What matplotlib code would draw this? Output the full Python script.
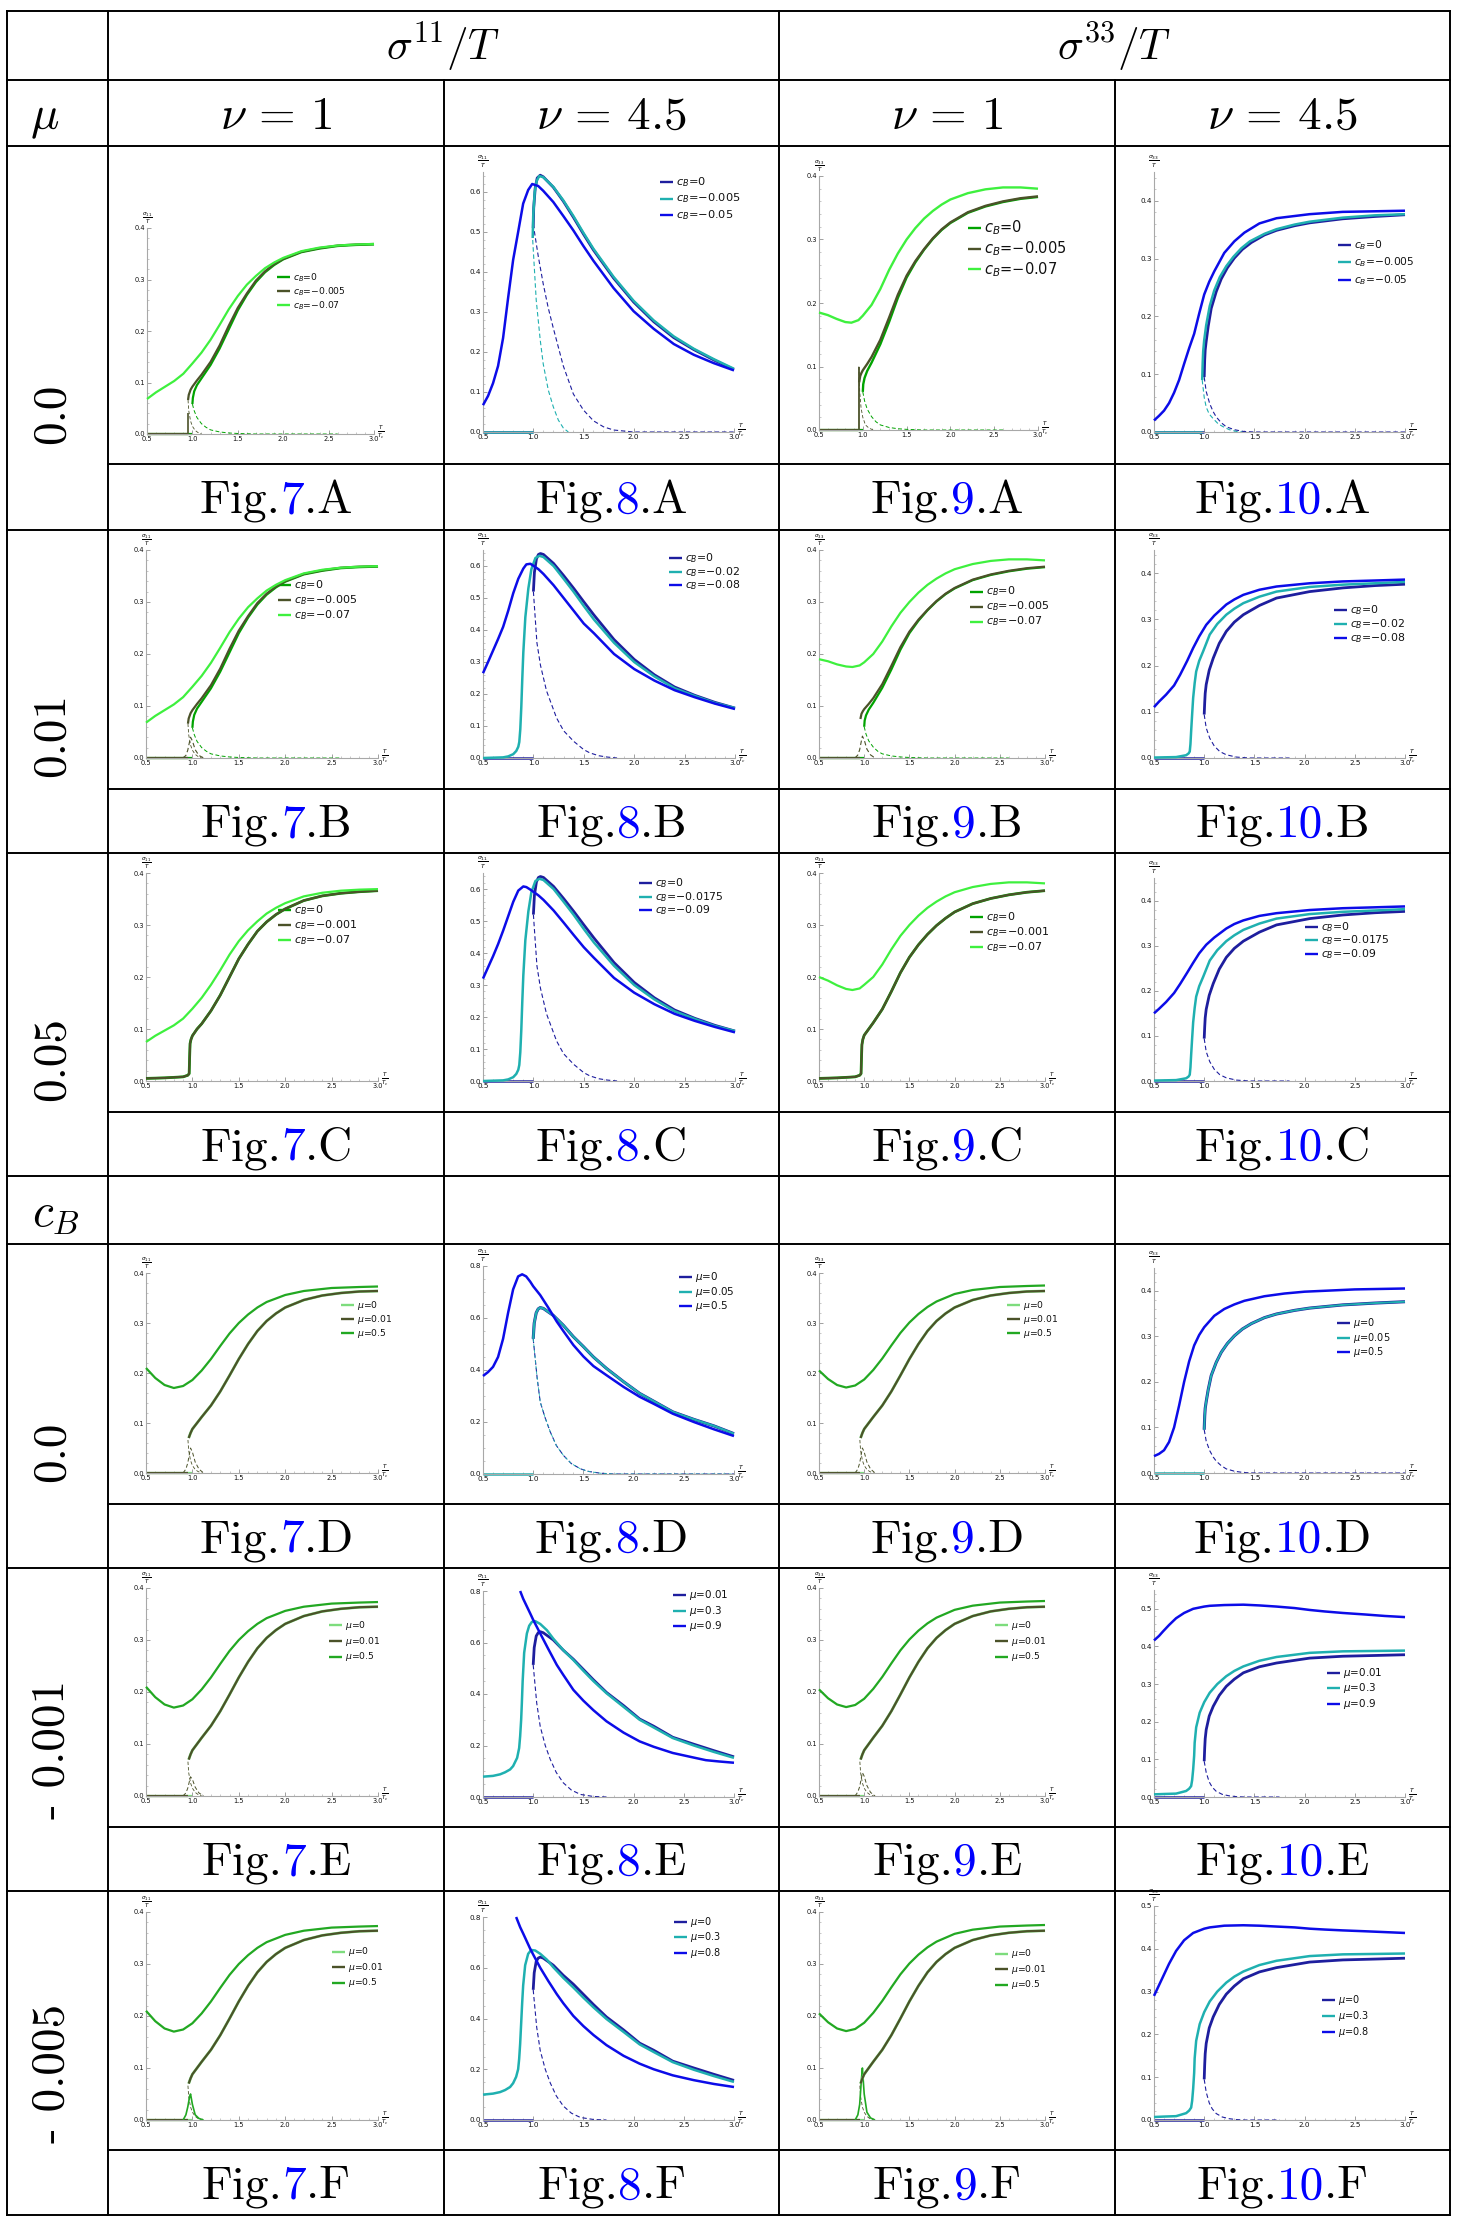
import matplotlib
matplotlib.use('Agg')
import matplotlib.pyplot as plt
from matplotlib.ticker import MultipleLocator, FormatStrFormatter

# ====================== DATA ======================
# ---- Fig.7 (sigma11, nu=1), rows A-C ----
x7_lg = [0.5,0.6,0.7,0.8,0.9,1.0,1.1,1.2,1.3,1.4,1.5,1.6,1.7,1.8,1.9,2.0,2.2,2.4,2.6,2.8,3.0]
y7a_lg = [0.068,0.081,0.092,0.103,0.117,0.137,0.158,0.183,0.212,0.242,0.268,0.290,0.307,0.322,0.333,0.342,0.355,0.362,0.366,0.368,0.369]
y7c_lg = [0.075,0.087,0.097,0.107,0.120,0.139,0.160,0.185,0.213,0.243,0.269,0.290,0.307,0.322,0.333,0.342,0.355,0.362,0.366,0.368,0.369]
x7_dk = [0.952,0.96,0.98,1.0,1.05,1.1,1.2,1.3,1.4,1.5,1.6,1.7,1.8,1.9,2.0,2.2,2.4,2.6,2.8,3.0]
y7a_dk = [0.066,0.076,0.086,0.092,0.104,0.115,0.140,0.172,0.210,0.245,0.273,0.298,0.316,0.330,0.340,0.354,0.361,0.366,0.368,0.369]
x7_g0 = [1.0,1.005,1.02,1.05,1.1,1.2,1.3,1.4,1.5,1.6,1.7,1.8,1.9,2.0,2.2,2.4,2.6,2.8,3.0]
y7a_g0 = [0.058,0.070,0.083,0.095,0.108,0.134,0.166,0.203,0.240,0.270,0.295,0.314,0.328,0.339,0.353,0.360,0.365,0.367,0.368]
x7_gdash = [1.0,1.02,1.05,1.1,1.15,1.2,1.3,1.4,1.5,1.7,2.0,2.6]
y7_gdash = [0.058,0.045,0.032,0.020,0.013,0.008,0.004,0.002,0.001,0.0,0.0,0.0]
x7_kdash = [0.952,0.96,0.98,1.0,1.03,1.06,1.1]
y7_kdash = [0.066,0.045,0.025,0.015,0.007,0.003,0.0]
x7a_spike = [0.95,0.95]
y7a_spike = [0.0,0.04]
x_bump = [0.9,0.93,0.95,0.97,0.98,1.0,1.03,1.07,1.12]
y7b_bump = [0.0,0.005,0.015,0.032,0.040,0.033,0.016,0.005,0.0]
x7c_dk = [0.5,0.7,0.9,0.95,0.965,0.97,0.975,0.985,1.0,1.05,1.1,1.2,1.3,1.4,1.5,1.6,1.7,1.8,1.9,2.0,2.2,2.4,2.6,2.8,3.0]
y7c_dk = [0.005,0.006,0.008,0.011,0.014,0.045,0.072,0.08,0.087,0.1,0.11,0.135,0.165,0.2,0.235,0.263,0.288,0.306,0.32,0.331,0.347,0.356,0.361,0.364,0.366]

# ---- Fig.9 (sigma33, nu=1), rows A-C ----
x9_lg = [0.5,0.6,0.7,0.8,0.87,0.95,1.0,1.1,1.2,1.3,1.4,1.5,1.6,1.7,1.8,1.9,2.0,2.2,2.4,2.6,2.8,3.0]
y9a_lg = [0.185,0.181,0.175,0.170,0.169,0.173,0.180,0.197,0.222,0.252,0.278,0.300,0.318,0.333,0.345,0.355,0.363,0.373,0.379,0.382,0.382,0.380]
y9b_lg = [0.190,0.186,0.180,0.176,0.175,0.178,0.184,0.200,0.224,0.253,0.279,0.300,0.318,0.333,0.345,0.355,0.363,0.373,0.379,0.382,0.382,0.380]
y9c_lg = [0.200,0.193,0.184,0.177,0.175,0.178,0.185,0.200,0.224,0.253,0.279,0.300,0.318,0.333,0.345,0.355,0.363,0.373,0.379,0.382,0.382,0.380]
x9_dk = [0.958,0.97,0.985,1.0,1.05,1.1,1.2,1.3,1.4,1.5,1.6,1.7,1.8,1.9,2.0,2.2,2.4,2.6,2.8,3.0]
y9a_dk = [0.075,0.085,0.09,0.094,0.104,0.115,0.142,0.177,0.213,0.243,0.266,0.285,0.302,0.316,0.327,0.343,0.353,0.360,0.365,0.368]
y9a_g0 = [0.060,0.072,0.082,0.093,0.106,0.135,0.170,0.208,0.240,0.264,0.284,0.301,0.315,0.326,0.342,0.352,0.359,0.364,0.367]
y9_gdash = [0.06,0.046,0.033,0.021,0.013,0.008,0.004,0.002,0.001,0.0,0.0,0.0]
x9a_spike = [0.955,0.955]
y9a_spike = [0.0,0.1]
x9_sdash = [0.955,0.965,0.98,1.0,1.03,1.07,1.12]
y9_sdash = [0.1,0.06,0.035,0.02,0.008,0.003,0.0]
y9b_bump = [0.0,0.006,0.016,0.034,0.042,0.035,0.017,0.006,0.0]
y9c_dk = [0.005,0.006,0.008,0.011,0.014,0.045,0.07,0.08,0.088,0.1,0.112,0.138,0.172,0.208,0.238,0.262,0.282,0.299,0.313,0.325,0.341,0.351,0.358,0.363,0.366]

# ---- Fig.7 / Fig.9 rows D-F ----
x_up = [0.5,0.6,0.7,0.8,0.9,1.0,1.1,1.2,1.3,1.4,1.5,1.6,1.7,1.8,2.0,2.2,2.5,2.8,3.0]
y7d_up = [0.210,0.190,0.176,0.170,0.174,0.186,0.205,0.228,0.254,0.279,0.300,0.317,0.331,0.342,0.356,0.364,0.370,0.372,0.373]
y9d_up = [0.205,0.188,0.176,0.171,0.175,0.187,0.206,0.229,0.255,0.280,0.301,0.318,0.332,0.343,0.358,0.366,0.372,0.374,0.375]
x_low = [0.96,0.98,1.0,1.05,1.1,1.2,1.3,1.4,1.5,1.6,1.7,1.8,1.9,2.0,2.2,2.4,2.6,2.8,3.0]
y7d_low = [0.070,0.080,0.088,0.100,0.112,0.135,0.163,0.195,0.228,0.258,0.284,0.304,0.319,0.331,0.346,0.355,0.360,0.363,0.364]
y7d_bump = [0.0,0.008,0.020,0.040,0.050,0.042,0.022,0.008,0.0]
y7e_bump = [0.0,0.006,0.015,0.030,0.037,0.032,0.017,0.006,0.0]
y7f_bump = [0.0,0.010,0.025,0.045,0.050,0.030,0.010,0.003,0.0]
y9d_bump = [0.0,0.008,0.020,0.040,0.050,0.042,0.022,0.008,0.0]
y9e_bump = [0.0,0.008,0.018,0.036,0.045,0.038,0.020,0.007,0.0]
y9f_bump = [0.0,0.010,0.030,0.080,0.100,0.050,0.015,0.004,0.0]

# ---- Fig.8 (sigma11, nu=4.5) ----
x8a_bl = [0.5,0.55,0.6,0.65,0.7,0.75,0.8,0.85,0.9,0.95,0.99,1.05,1.1,1.2,1.3,1.4,1.5,1.6,1.8,2.0,2.2,2.4,2.6,2.8,3.0]
y8a_bl = [0.067,0.09,0.122,0.165,0.235,0.335,0.43,0.5,0.571,0.605,0.62,0.615,0.603,0.575,0.54,0.504,0.465,0.428,0.36,0.302,0.258,0.22,0.193,0.172,0.154]
x8a_nv = [1.0,1.005,1.02,1.04,1.07,1.1,1.2,1.3,1.4,1.5,1.6,1.8,2.0,2.2,2.4,2.6,2.8,3.0]
y8a_nv = [0.51,0.56,0.61,0.635,0.642,0.638,0.612,0.577,0.537,0.495,0.455,0.385,0.325,0.276,0.236,0.206,0.18,0.156]
x8a_tl = [0.995,1.0,1.015,1.035,1.06,1.1,1.2,1.3,1.4,1.5,1.6,1.8,2.0,2.2,2.4,2.6,2.8,3.0]
y8a_tl = [0.485,0.54,0.6,0.628,0.64,0.637,0.613,0.579,0.54,0.498,0.458,0.388,0.328,0.279,0.239,0.208,0.182,0.158]
x8a_tdash = [0.995,1.03,1.07,1.1,1.15,1.2,1.25,1.3,1.35]
y8a_tdash = [0.48,0.33,0.23,0.17,0.105,0.063,0.03,0.01,0.0]
x8a_ndash = [1.0,1.05,1.1,1.15,1.2,1.3,1.4,1.5,1.6,1.7,1.8,2.0,3.0]
y8a_ndash = [0.52,0.44,0.37,0.31,0.26,0.165,0.095,0.055,0.028,0.013,0.005,0.0,0.0]
x8b_bl = [0.5,0.55,0.6,0.65,0.7,0.75,0.8,0.85,0.9,0.93,0.97,1.05,1.1,1.2,1.3,1.4,1.5,1.6,1.8,2.0,2.2,2.4,2.6,2.8,3.0]
y8b_bl = [0.265,0.3,0.336,0.372,0.41,0.46,0.515,0.56,0.592,0.605,0.607,0.59,0.575,0.54,0.5,0.46,0.42,0.39,0.325,0.278,0.242,0.212,0.19,0.17,0.153]
y8c_bl = [0.32,0.355,0.39,0.428,0.47,0.515,0.56,0.595,0.608,0.606,0.598,0.58,0.566,0.533,0.495,0.456,0.418,0.385,0.322,0.276,0.24,0.21,0.188,0.169,0.152]
x8b_tl = [0.5,0.7,0.75,0.8,0.83,0.85,0.86,0.87,0.88,0.89,0.9,0.92,0.95,0.98,1.02,1.06,1.1,1.2,1.3,1.4,1.5,1.6,1.8,2.0,2.2,2.4,2.6,2.8,3.0]
y8b_tl = [0.0,0.002,0.005,0.012,0.022,0.035,0.05,0.09,0.16,0.25,0.33,0.44,0.53,0.59,0.625,0.632,0.628,0.6,0.56,0.519,0.475,0.433,0.36,0.3,0.255,0.218,0.194,0.172,0.156]
x8b_nv = [1.0,1.01,1.03,1.05,1.07,1.1,1.2,1.3,1.4,1.5,1.6,1.8,2.0,2.2,2.4,2.6,2.8,3.0]
y8b_nv = [0.52,0.58,0.622,0.636,0.639,0.636,0.608,0.57,0.53,0.488,0.447,0.37,0.308,0.26,0.222,0.196,0.174,0.156]
x8b_ndash = [1.0,1.035,1.07,1.13,1.23,1.3,1.4,1.5,1.56,1.65,1.73,1.83]
y8b_ndash = [0.52,0.36,0.29,0.21,0.125,0.085,0.052,0.026,0.016,0.007,0.003,0.0]
x8d_bl = [0.5,0.55,0.6,0.65,0.7,0.75,0.8,0.85,0.89,0.93,0.97,1.0,1.07,1.15,1.235,1.3,1.4,1.5,1.6,1.73,1.9,2.06,2.2,2.39,2.6,2.8,3.0]
y8d_bl = [0.377,0.392,0.412,0.45,0.52,0.62,0.71,0.76,0.768,0.76,0.74,0.722,0.688,0.64,0.586,0.55,0.496,0.452,0.415,0.38,0.335,0.297,0.27,0.232,0.2,0.172,0.146]
x8d_tl = [1.0,1.01,1.03,1.05,1.07,1.1,1.2,1.3,1.4,1.5,1.6,1.73,1.9,2.06,2.2,2.39,2.6,2.8,3.0]
y8d_tl = [0.52,0.58,0.62,0.635,0.64,0.637,0.61,0.572,0.528,0.49,0.45,0.406,0.355,0.31,0.28,0.239,0.21,0.185,0.155]
x8d_dash = [1.0,1.04,1.07,1.12,1.17,1.23,1.3,1.38,1.47,1.55,1.67,1.8,3.0]
y8d_dash = [0.52,0.367,0.277,0.215,0.162,0.11,0.072,0.04,0.02,0.01,0.003,0.0,0.0]
x8e_bl = [0.87,0.9,0.97,1.0,1.07,1.15,1.235,1.3,1.4,1.5,1.6,1.73,1.9,2.06,2.2,2.39,2.6,2.72,2.85,3.0]
y8e_bl = [0.8,0.77,0.713,0.688,0.635,0.575,0.513,0.474,0.416,0.374,0.337,0.294,0.25,0.216,0.195,0.171,0.153,0.143,0.138,0.133]
x8e_tl = [0.5,0.6,0.67,0.72,0.77,0.8,0.84,0.86,0.87,0.88,0.887,0.895,0.91,0.937,0.96,0.987,1.02,1.07,1.136,1.2,1.3,1.4,1.5,1.6,1.73,1.9,2.06,2.2,2.39,2.6,2.8,3.0]
y8e_tl = [0.079,0.082,0.088,0.096,0.107,0.12,0.152,0.19,0.236,0.3,0.365,0.45,0.56,0.635,0.665,0.68,0.683,0.672,0.648,0.615,0.57,0.532,0.49,0.45,0.403,0.35,0.3,0.27,0.229,0.2,0.175,0.152]
x8e_nv = [1.0,1.01,1.03,1.05,1.07,1.1,1.2,1.3,1.4,1.5,1.6,1.73,1.9,2.06,2.2,2.39,2.6,2.8,3.0]
y8e_nv = [0.513,0.58,0.625,0.638,0.642,0.638,0.61,0.57,0.535,0.495,0.455,0.406,0.355,0.303,0.275,0.232,0.205,0.18,0.156]
x8e_ndash = [1.0,1.035,1.07,1.12,1.17,1.23,1.3,1.38,1.47,1.6,1.73]
y8e_ndash = [0.513,0.365,0.274,0.2,0.146,0.095,0.055,0.027,0.01,0.002,0.0]
x8f_bl = [0.83,0.87,0.9,0.97,1.0,1.07,1.15,1.235,1.3,1.4,1.5,1.6,1.73,1.9,2.06,2.2,2.39,2.6,2.8,3.0]
y8f_bl = [0.8,0.76,0.735,0.675,0.652,0.6,0.548,0.496,0.46,0.41,0.37,0.335,0.295,0.253,0.222,0.2,0.176,0.157,0.142,0.13]
x8f_tl = [0.5,0.6,0.67,0.72,0.77,0.8,0.83,0.85,0.86,0.87,0.88,0.89,0.9,0.92,0.95,0.98,1.02,1.07,1.136,1.2,1.3,1.4,1.5,1.6,1.73,1.9,2.06,2.2,2.39,2.6,2.8,3.0]
y8f_tl = [0.1,0.104,0.11,0.118,0.13,0.145,0.17,0.2,0.24,0.3,0.38,0.46,0.53,0.61,0.655,0.67,0.668,0.655,0.632,0.602,0.56,0.522,0.482,0.444,0.398,0.347,0.298,0.268,0.228,0.198,0.173,0.15]

# ---- Fig.10 (sigma33, nu=4.5) ----
x10a_bl = [0.5,0.55,0.6,0.65,0.7,0.75,0.8,0.85,0.9,0.95,1.0,1.05,1.1,1.2,1.3,1.4,1.55,1.72,2.05,2.38,2.7,3.0]
y10a_bl = [0.02,0.028,0.037,0.05,0.068,0.09,0.118,0.145,0.17,0.205,0.238,0.26,0.278,0.31,0.33,0.345,0.361,0.37,0.377,0.381,0.382,0.383]
x10a_tl = [0.98,0.985,0.99,1.0,1.02,1.055,1.1,1.155,1.22,1.29,1.37,1.455,1.6,1.72,1.9,2.05,2.38,2.7,3.0]
y10a_tl = [0.09,0.12,0.14,0.159,0.185,0.218,0.245,0.268,0.287,0.303,0.318,0.33,0.343,0.351,0.359,0.364,0.371,0.375,0.377]
x10a_nv = [1.0,1.005,1.01,1.02,1.04,1.07,1.12,1.17,1.23,1.3,1.38,1.47,1.6,1.72,1.9,2.05,2.38,2.7,3.0]
y10a_nv = [0.095,0.125,0.142,0.157,0.183,0.214,0.243,0.265,0.284,0.301,0.316,0.328,0.341,0.349,0.357,0.362,0.369,0.373,0.376]
x10a_tdash = [0.98,1.0,1.02,1.05,1.09,1.14,1.19,1.25,1.32,1.4]
y10a_tdash = [0.09,0.06,0.043,0.031,0.023,0.014,0.009,0.004,0.001,0.0]
x10a_ndash = [1.0,1.02,1.055,1.09,1.12,1.17,1.22,1.3,1.39,1.5,3.0]
y10a_ndash = [0.095,0.07,0.049,0.035,0.026,0.016,0.009,0.004,0.001,0.0,0.0]
x10b_bl = [0.5,0.55,0.62,0.7,0.76,0.83,0.89,0.95,1.02,1.1,1.22,1.3,1.39,1.55,1.72,2.05,2.38,2.7,3.0]
y10b_bl = [0.11,0.122,0.137,0.157,0.18,0.21,0.238,0.263,0.288,0.308,0.332,0.343,0.353,0.364,0.371,0.378,0.382,0.384,0.386]
y10c_bl = [0.15,0.16,0.175,0.195,0.215,0.24,0.262,0.283,0.302,0.318,0.338,0.348,0.356,0.366,0.372,0.379,0.383,0.385,0.387]
x10b_tl = [0.5,0.72,0.82,0.845,0.856,0.863,0.87,0.88,0.89,0.905,0.92,0.95,0.99,1.055,1.13,1.22,1.3,1.39,1.55,1.72,2.05,2.38,2.7,3.0]
y10b_tl = [0.001,0.002,0.006,0.01,0.014,0.03,0.058,0.095,0.13,0.162,0.187,0.21,0.231,0.267,0.29,0.31,0.323,0.335,0.349,0.36,0.37,0.375,0.378,0.381]
x10b_nv = [1.0,1.005,1.01,1.02,1.05,1.09,1.15,1.22,1.3,1.39,1.55,1.72,2.05,2.38,2.7,3.0]
y10b_nv = [0.094,0.12,0.14,0.159,0.19,0.216,0.248,0.274,0.294,0.31,0.33,0.346,0.36,0.368,0.373,0.376]
x10b_ndash = [1.0,1.02,1.055,1.1,1.155,1.22,1.32,1.45,1.85]
y10b_ndash = [0.094,0.065,0.043,0.026,0.014,0.007,0.002,0.0,0.0]
x10d_bl = [0.5,0.55,0.6,0.65,0.7,0.75,0.8,0.85,0.9,0.95,1.0,1.1,1.2,1.3,1.4,1.6,1.8,2.0,2.5,3.0]
y10d_bl = [0.037,0.042,0.05,0.068,0.1,0.148,0.2,0.245,0.28,0.303,0.32,0.345,0.36,0.37,0.378,0.388,0.394,0.398,0.403,0.405]
x10e_bl = [0.5,0.55,0.59,0.65,0.72,0.8,0.89,1.0,1.055,1.2,1.39,1.55,1.72,1.9,2.05,2.2,2.38,2.6,2.8,3.0]
y10e_bl = [0.416,0.428,0.44,0.457,0.475,0.489,0.5,0.506,0.508,0.51,0.511,0.509,0.506,0.502,0.497,0.493,0.489,0.485,0.481,0.478]
y10f_bl = [0.29,0.315,0.335,0.365,0.395,0.42,0.437,0.447,0.45,0.454,0.455,0.454,0.452,0.45,0.447,0.445,0.443,0.441,0.439,0.437]
x10e_tl = [0.5,0.6,0.72,0.82,0.85,0.87,0.88,0.89,0.9,0.905,0.92,0.955,1.0,1.055,1.13,1.22,1.3,1.39,1.55,1.72,2.05,2.38,2.7,3.0]
y10e_tl = [0.007,0.008,0.009,0.016,0.022,0.029,0.045,0.073,0.11,0.144,0.185,0.224,0.252,0.277,0.3,0.321,0.335,0.347,0.362,0.372,0.383,0.387,0.388,0.389]
x10e_nv = [1.0,1.005,1.01,1.02,1.05,1.09,1.15,1.22,1.3,1.39,1.55,1.72,2.05,2.38,2.7,3.0]
y10e_nv = [0.095,0.13,0.155,0.179,0.215,0.241,0.27,0.294,0.313,0.33,0.346,0.356,0.369,0.374,0.376,0.378]
x10e_ndash = [1.0,1.02,1.05,1.08,1.12,1.18,1.25,1.32,1.4,1.75]
y10e_ndash = [0.095,0.065,0.04,0.026,0.015,0.007,0.003,0.001,0.0,0.0]

zx_95 = [0.5, 0.95]
zx_1 = [0.5, 1.0]
zy = [0.0, 0.0]

# legend labels
lab_7a = ['$c_B$=0', '$c_B$=\u22120.005', '$c_B$=\u22120.07']
lab_7c = ['$c_B$=0', '$c_B$=\u22120.001', '$c_B$=\u22120.07']
lab_8a = ['$c_B$=0', '$c_B$=\u22120.005', '$c_B$=\u22120.05']
lab_8b = ['$c_B$=0', '$c_B$=\u22120.02', '$c_B$=\u22120.08']
lab_8c = ['$c_B$=0', '$c_B$=\u22120.0175', '$c_B$=\u22120.09']
lab_mu7 = ['$\\mu$=0', '$\\mu$=0.01', '$\\mu$=0.5']
lab_8d = ['$\\mu$=0', '$\\mu$=0.05', '$\\mu$=0.5']
lab_8e = ['$\\mu$=0.01', '$\\mu$=0.3', '$\\mu$=0.9']
lab_8f = ['$\\mu$=0', '$\\mu$=0.3', '$\\mu$=0.8']

# table texts
row_labels = ['0.0', '0.01', '0.05', '0.0', '- 0.001', '- 0.005']
fig_numbers = ['7', '8', '9', '10']
row_letters = ['A', 'B', 'C', 'D', 'E', 'F']

# ====================== STYLE ======================
G0 = '#00a300'; DK = '#4b5229'; LG = '#3ef03e'
MU0 = '#7ddc7d'; MU5 = '#22a822'
NV = '#1e1e9e'; TL = '#1fb0b0'; BL = '#0c0ce8'
FIGBLUE = '#0000ff'
DASH = (0, (4, 2.5))

W, H, DPI = 1463, 2230, 100
fig = plt.figure(figsize=(W / DPI, H / DPI), dpi=DPI)
fig.patch.set_facecolor('white')
bg = fig.add_axes([0, 0, 1, 1], zorder=0)
bg.set_xlim(0, W); bg.set_ylim(H, 0); bg.axis('off')

# ---------------- table grid ----------------
VX = [7, 108, 444, 779, 1115, 1450]
TOP, BOT = 11, 2215
LWT = 1.4
def hl(y, x0=7, x1=1450):
    bg.plot([x0, x1], [y, y], color='black', lw=LWT, solid_capstyle='projecting')
def vl(x, y0, y1):
    bg.plot([x, x], [y0, y1], color='black', lw=LWT, solid_capstyle='projecting')

full_h = [11, 80, 146, 530, 853, 1176, 1244, 1568, 1891, 2215]
part_h = [464, 789, 1112, 1504, 1827, 2150]
for y in full_h: hl(y)
for y in part_h: hl(y, 108, 1450)
for x in [7, 108, 779, 1450]: vl(x, TOP, BOT)
for x in [444, 1115]: vl(x, 80, BOT)

# header texts
bg.text(443.5, 47, r'$\sigma^{11}/T$', ha='center', va='center', fontsize=31, math_fontfamily='cm')
bg.text(1114.5, 47, r'$\sigma^{33}/T$', ha='center', va='center', fontsize=31, math_fontfamily='cm')
nu_txt = [r'$\nu\,=\,1$', r'$\nu\,=\,4.5$', r'$\nu\,=\,1$', r'$\nu\,=\,4.5$']
for i, t in enumerate(nu_txt):
    bg.text((VX[i + 1] + VX[i + 2]) / 2, 129, t, ha='center', va='baseline', fontsize=34, math_fontfamily='cm')
bg.text(30, 129, r'$\mu$', ha='left', va='baseline', fontsize=34, math_fontfamily='cm')
bg.text(32, 1226, r'$c_B$', ha='left', va='baseline', fontsize=34, math_fontfamily='cm')

row_label_y = [414, 735, 1059, 1452, 1749, 2073]
for t, y in zip(row_labels, row_label_y):
    bg.text(52, y, t, rotation=90, ha='center', va='center', fontsize=34, family='cmr10')

# captions
cap_cells = [(464, 530), (789, 853), (1112, 1176), (1504, 1568), (1827, 1891), (2150, 2215)]
renderer = fig.canvas.get_renderer()
for r, (c0, c1) in enumerate(cap_cells):
    yb = (c0 + c1) / 2 + 16
    for c in range(4):
        xc = (VX[c + 1] + VX[c + 2]) / 2
        parts = [('Fig.', 'black'), (fig_numbers[c], FIGBLUE), ('.' + row_letters[r], 'black')]
        ts = [bg.text(0, yb, s, color=col, fontsize=34, family='cmr10', ha='left', va='baseline') for s, col in parts]
        ws = [t.get_window_extent(renderer).width for t in ts]
        x = xc - sum(ws) / 2
        for t, w in zip(ts, ws):
            t.set_x(x); x += w

# ---------------- panels ----------------
def S(x, y, c, lw=1.7, ls='-', z=3):
    return dict(x=x, y=y, c=c, lw=lw, ls=ls, z=z)

def fig7_abc(lg, g0, dk, extra):
    return ([S(zx_1, zy, G0, 1.6, z=2), S(zx_95, zy, DK, 1.6, z=2)] + extra +
            [S(x7_gdash, y7_gdash, G0, 0.7, DASH, 2), S(x7_kdash, y7_kdash, DK, 0.6, DASH, 2)] +
            [S(g0[0], g0[1], G0, 1.6), S(dk[0], dk[1], DK, 1.6), S(lg[0], lg[1], LG, 1.6)])

def fig79_def(up, bump_y, bump_c, bump_solid):
    ser = [S(zx_1, zy, MU0, 1.6, z=2), S(zx_95, zy, DK, 1.6, z=2),
           S(x7_kdash, y7_kdash, DK, 0.6, DASH, 2)]
    if bump_solid:
        ser.append(S(x_bump, bump_y, bump_c, 1.2, '-', 2))
    else:
        ser.append(S(x_bump, bump_y, bump_c, 0.7, DASH, 2))
    ser += [S(x_low, y7d_low, MU0, 2.0, z=3), S(x_low, y7d_low, DK, 1.6, z=3), S(x_up, up, MU5, 1.6, z=4)]
    return ser

T79, T810 = 4.8, 5.2
panels = []
# Row A
panels.append(dict(box=(147, 374, 434, 228, 0.4), sig='11', ymaj=0.1, tfs=T79,
    series=fig7_abc((x7_lg, y7a_lg), (x7_g0, y7a_g0), (x7_dk, y7a_dk),
                    [S(x7a_spike, y7a_spike, DK, 1.2, z=2)]),
    leg=(lab_7a, [G0, DK, LG], 0.572, 0.76, 0.068, 6.7)))
panels.append(dict(box=(483, 734, 432, 172, 0.65), sig='11', ymaj=0.1, tfs=T810,
    series=[S(zx_1, zy, NV, 1.8, z=2), S(zx_1, zy, TL, 1.8, z=2),
            S(x8a_tdash, y8a_tdash, TL, 0.8, DASH, 2), S(x8a_ndash, y8a_ndash, NV, 0.8, DASH, 2),
            S(x8a_nv, y8a_nv, NV, 2.0), S(x8a_tl, y8a_tl, TL, 1.8), S(x8a_bl, y8a_bl, BL, 1.8)],
    leg=(lab_8a, [NV, TL, BL], 0.705, 0.96, 0.062, 8.2)))
panels.append(dict(box=(819, 1038, 430, 176, 0.4), sig='33', ymaj=0.1, tfs=T79,
    series=[S(zx_1, zy, G0, 1.6, z=2), S(zx_95, zy, DK, 1.6, z=2), S(x9a_spike, y9a_spike, DK, 1.3, z=2),
            S(x7_gdash, y9_gdash, G0, 0.7, DASH, 2), S(x9_sdash, y9_sdash, DK, 0.6, DASH, 2),
            S(x7_g0, y9a_g0, G0, 1.7), S(x9_dk, y9a_dk, DK, 1.7), S(x9_lg, y9a_lg, LG, 1.7)],
    leg=(lab_7a, [G0, DK, LG], 0.68, 0.795, 0.081, 10.5)))
panels.append(dict(box=(1154, 1405, 432, 172, 0.45), sig='33', ymaj=0.1, tfs=T810,
    series=[S(zx_1, zy, NV, 1.8, z=2), S([0.5, 0.98], zy, TL, 1.8, z=2),
            S(x10a_tdash, y10a_tdash, TL, 0.8, DASH, 2), S(x10a_ndash, y10a_ndash, NV, 0.8, DASH, 2),
            S(x10a_nv, y10a_nv, NV, 2.0), S(x10a_tl, y10a_tl, TL, 1.8), S(x10a_bl, y10a_bl, BL, 1.8)],
    leg=(lab_8a, [NV, TL, BL], 0.733, 0.72, 0.067, 7.7)))
# Row B
panels.append(dict(box=(146, 378, 758, 550, 0.4), sig='11', ymaj=0.1, tfs=T79,
    series=fig7_abc((x7_lg, y7a_lg), (x7_g0, y7a_g0), (x7_dk, y7a_dk),
                    [S(x_bump, y7b_bump, DK, 0.8, DASH, 2)]),
    leg=(lab_7a, [G0, DK, LG], 0.57, 0.83, 0.072, 8)))
panels.append(dict(box=(483, 735, 758, 550, 0.65), sig='11', ymaj=0.1, tfs=T810,
    series=[S(zx_1, zy, NV, 1.8, z=2), S(x8b_ndash, y8b_ndash, NV, 0.8, DASH, 2),
            S(x8b_nv, y8b_nv, NV, 2.0), S(x8b_tl, y8b_tl, TL, 1.8), S(x8b_bl, y8b_bl, BL, 1.8)],
    leg=(lab_8b, [NV, TL, BL], 0.74, 0.96, 0.065, 7.8)))
panels.append(dict(box=(819, 1045, 758, 550, 0.4), sig='33', ymaj=0.1, tfs=T79,
    series=[S(zx_1, zy, G0, 1.6, z=2), S(zx_95, zy, DK, 1.6, z=2), S(x_bump, y9b_bump, DK, 0.8, DASH, 2),
            S(x7_gdash, y9_gdash, G0, 0.7, DASH, 2),
            S(x7_g0, y9a_g0, G0, 1.6), S(x9_dk, y9a_dk, DK, 1.6), S(x9_lg, y9b_lg, LG, 1.6)],
    leg=(lab_7a, [G0, DK, LG], 0.67, 0.80, 0.072, 8)))
panels.append(dict(box=(1154, 1405, 758, 550, 0.45), sig='33', ymaj=0.1, tfs=T810,
    series=[S(zx_1, zy, NV, 1.8, z=2), S(x10b_ndash, y10b_ndash, NV, 0.8, DASH, 2),
            S(x10b_nv, y10b_nv, NV, 2.0), S(x10b_tl, y10b_tl, TL, 1.8), S(x10b_bl, y10b_bl, BL, 1.8)],
    leg=(lab_8b, [NV, TL, BL], 0.717, 0.71, 0.067, 7.8)))
# Row C
panels.append(dict(box=(146, 378, 1081, 873, 0.4), sig='11', ymaj=0.1, tfs=T79,
    series=[S(x7c_dk, y7c_dk, G0, 2.0), S(x7c_dk, y7c_dk, DK, 1.6), S(x7_lg, y7c_lg, LG, 1.6)],
    leg=(lab_7c, [G0, DK, LG], 0.57, 0.82, 0.072, 8)))
panels.append(dict(box=(483, 735, 1081, 873, 0.65), sig='11', ymaj=0.1, tfs=T810,
    series=[S(zx_1, zy, NV, 1.8, z=2), S(x8b_ndash, y8b_ndash, NV, 0.8, DASH, 2),
            S(x8b_nv, y8b_nv, NV, 2.0), S(x8b_tl, y8b_tl, TL, 1.8), S(x8b_bl, y8c_bl, BL, 1.8)],
    leg=(lab_8c, [NV, TL, BL], 0.62, 0.95, 0.065, 7.8)))
panels.append(dict(box=(819, 1045, 1081, 873, 0.4), sig='33', ymaj=0.1, tfs=T79,
    series=[S(x7c_dk, y9c_dk, G0, 2.0), S(x7c_dk, y9c_dk, DK, 1.6), S(x9_lg, y9c_lg, LG, 1.6)],
    leg=(lab_7c, [G0, DK, LG], 0.67, 0.79, 0.072, 8)))
panels.append(dict(box=(1154, 1405, 1081, 878, 0.45), sig='33', ymaj=0.1, tfs=T810,
    series=[S(zx_1, zy, NV, 1.8, z=2), S(x10b_ndash, y10b_ndash, NV, 0.8, DASH, 2),
            S(x10b_nv, y10b_nv, NV, 2.0), S(x10b_tl, y10b_tl, TL, 1.8), S(x10b_bl, y10c_bl, BL, 1.8)],
    leg=(lab_8c, [NV, TL, BL], 0.60, 0.76, 0.067, 7.8)))
# Row D
panels.append(dict(box=(146, 378, 1473, 1273, 0.4), sig='11', ymaj=0.1, tfs=T79,
    series=fig79_def(y7d_up, y7d_bump, DK, False),
    leg=(lab_mu7, [MU0, DK, MU5], 0.84, 0.84, 0.07, 6.7)))
panels.append(dict(box=(483, 734, 1474, 1266, 0.8), sig='11', ymaj=0.2, tfs=T810,
    series=[S(zx_1, zy, TL, 1.8, z=2), S(x8d_dash, y8d_dash, NV, 0.8, DASH, 2),
            S(x8d_dash, y8d_dash, TL, 0.6, DASH, 2),
            S(x8d_tl, y8d_tl, NV, 2.2), S(x8d_tl, y8d_tl, TL, 1.6), S(x8d_bl, y8d_bl, BL, 1.8)],
    leg=(lab_8d, [NV, TL, BL], 0.78, 0.947, 0.07, 7.5)))
panels.append(dict(box=(819, 1045, 1473, 1273, 0.4), sig='33', ymaj=0.1, tfs=T79,
    series=fig79_def(y9d_up, y9d_bump, DK, False),
    leg=(lab_mu7, [MU0, DK, MU5], 0.83, 0.84, 0.07, 6.7)))
panels.append(dict(box=(1154, 1405, 1473, 1268, 0.45), sig='33', ymaj=0.1, tfs=T810,
    series=[S(zx_1, zy, TL, 1.8, z=2), S(x10a_ndash, y10a_ndash, NV, 0.8, DASH, 2),
            S(x10a_nv, y10a_nv, NV, 2.2), S(x10a_nv, y10a_nv, TL, 1.4), S(x10d_bl, y10d_bl, BL, 1.8)],
    leg=(lab_8d, [NV, TL, BL], 0.73, 0.73, 0.07, 7)))
# Row E
panels.append(dict(box=(146, 378, 1796, 1588, 0.4), sig='11', ymaj=0.1, tfs=T79,
    series=fig79_def(y7d_up, y7e_bump, DK, False),
    leg=(lab_mu7, [MU0, DK, MU5], 0.79, 0.82, 0.075, 6.7)))
panels.append(dict(box=(483, 734, 1797, 1591, 0.8), sig='11', ymaj=0.2, tfs=T810,
    series=[S(zx_1, zy, NV, 1.8, z=2), S(x8e_ndash, y8e_ndash, NV, 0.8, DASH, 2),
            S(x8e_nv, y8e_nv, NV, 2.0), S(x8e_tl, y8e_tl, TL, 1.8), S(x8e_bl, y8e_bl, BL, 1.8)],
    leg=(lab_8e, [NV, TL, BL], 0.757, 0.98, 0.075, 7.5)))
panels.append(dict(box=(819, 1045, 1796, 1588, 0.4), sig='33', ymaj=0.1, tfs=T79,
    series=fig79_def(y9d_up, y9e_bump, DK, False),
    leg=(lab_mu7, [MU0, DK, MU5], 0.78, 0.82, 0.075, 6.7)))
panels.append(dict(box=(1154, 1405, 1797, 1590, 0.55), sig='33', ymaj=0.1, tfs=T810,
    series=[S(zx_1, zy, NV, 1.8, z=2), S(x10e_ndash, y10e_ndash, NV, 0.8, DASH, 2),
            S(x10e_nv, y10e_nv, NV, 2.0), S(x10e_tl, y10e_tl, TL, 1.8), S(x10e_bl, y10e_bl, BL, 1.8)],
    leg=(lab_8e, [NV, TL, BL], 0.69, 0.60, 0.075, 7.5)))
# Row F
panels.append(dict(box=(146, 378, 2120, 1912, 0.4), sig='11', ymaj=0.1, tfs=T79,
    series=fig79_def(y7d_up, y7f_bump, MU5, True),
    leg=(lab_mu7, [MU0, DK, MU5], 0.80, 0.81, 0.075, 6.7)))
panels.append(dict(box=(483, 734, 2120, 1917, 0.8), sig='11', ymaj=0.2, tfs=T810,
    series=[S(zx_1, zy, NV, 1.8, z=2), S(x8e_ndash, y8e_ndash, NV, 0.8, DASH, 2),
            S(x8e_nv, y8e_nv, NV, 2.0), S(x8f_tl, y8f_tl, TL, 1.8), S(x8f_bl, y8f_bl, BL, 1.8)],
    leg=(lab_8f, [NV, TL, BL], 0.76, 0.975, 0.075, 7)))
panels.append(dict(box=(819, 1045, 2120, 1912, 0.4), sig='33', ymaj=0.1, tfs=T79,
    series=fig79_def(y9d_up, y9f_bump, MU5, True),
    leg=(lab_mu7, [MU0, DK, MU5], 0.78, 0.80, 0.075, 6.7)))
panels.append(dict(box=(1154, 1405, 2120, 1906, 0.5), sig='33', ymaj=0.1, tfs=T810,
    series=[S(zx_1, zy, NV, 1.8, z=2), S(x10e_ndash, y10e_ndash, NV, 0.8, DASH, 2),
            S(x10e_nv, y10e_nv, NV, 2.0), S(x10e_tl, y10e_tl, TL, 1.8), S(x10e_bl, y10f_bl, BL, 1.8)],
    leg=(lab_8f, [NV, TL, BL], 0.67, 0.56, 0.075, 7)))

AXC = '#a8a8a8'
for p in panels:
    x0, x1, y0, yt, ytop = p['box']
    ax = fig.add_axes([x0 / W, 1 - y0 / H, (x1 - x0) / W, (y0 - yt) / H], zorder=2)
    ax.patch.set_alpha(0)
    ax.set_xlim(0.5, 3.0); ax.set_ylim(0, ytop)
    for s in p['series']:
        ax.plot(s['x'], s['y'], color=s['c'], lw=s['lw'], ls=s['ls'], zorder=s['z'],
                clip_on=False, solid_capstyle='butt', solid_joinstyle='round')
    for sp in ['top', 'right']:
        ax.spines[sp].set_visible(False)
    for sp in ['left', 'bottom']:
        ax.spines[sp].set_color(AXC); ax.spines[sp].set_linewidth(0.8)
    ax.xaxis.set_major_locator(MultipleLocator(0.5))
    ax.xaxis.set_minor_locator(MultipleLocator(0.1))
    ax.yaxis.set_major_locator(MultipleLocator(p['ymaj']))
    ax.yaxis.set_minor_locator(MultipleLocator(p['ymaj'] / (4 if p['ymaj'] > 0.15 else 5)))
    ax.xaxis.set_major_formatter(FormatStrFormatter('%.1f'))
    ax.yaxis.set_major_formatter(FormatStrFormatter('%.1f'))
    ax.tick_params(which='major', direction='in', length=3, width=0.6, color='#909090',
                   labelsize=p['tfs'], pad=1.2, labelcolor='#111111')
    ax.tick_params(which='minor', direction='in', length=1.6, width=0.5, color='#b0b0b0')
    fs_lab = p['tfs'] + 1.0
    ax.annotate(r'$\frac{\sigma_{%s}}{T}$' % p['sig'], xy=(0, 1), xycoords='axes fraction',
                xytext=(0, 1.5), textcoords='offset points', ha='center', va='bottom',
                fontsize=fs_lab, math_fontfamily='dejavusans', annotation_clip=False)
    ax.annotate(r'$\frac{T}{T_c}$', xy=(1, 0), xycoords='axes fraction',
                xytext=(2.5, 1), textcoords='offset points', ha='left', va='center',
                fontsize=fs_lab, math_fontfamily='dejavusans', annotation_clip=False)
    labels, cols, fx, fy, dy, fs = p['leg']
    wpx = x1 - x0
    L = 13.0 / wpx; gap = 3.0 / wpx
    for i, (lab, c) in enumerate(zip(labels, cols)):
        yy = fy - i * dy
        ax.plot([fx, fx + L], [yy, yy], transform=ax.transAxes, color=c, lw=1.7,
                clip_on=False, solid_capstyle='butt')
        ax.text(fx + L + gap, yy, lab, transform=ax.transAxes, ha='left', va='center',
                fontsize=fs, math_fontfamily='dejavusans', color='#111111')

fig.savefig('out.png', dpi=DPI, facecolor='white')
